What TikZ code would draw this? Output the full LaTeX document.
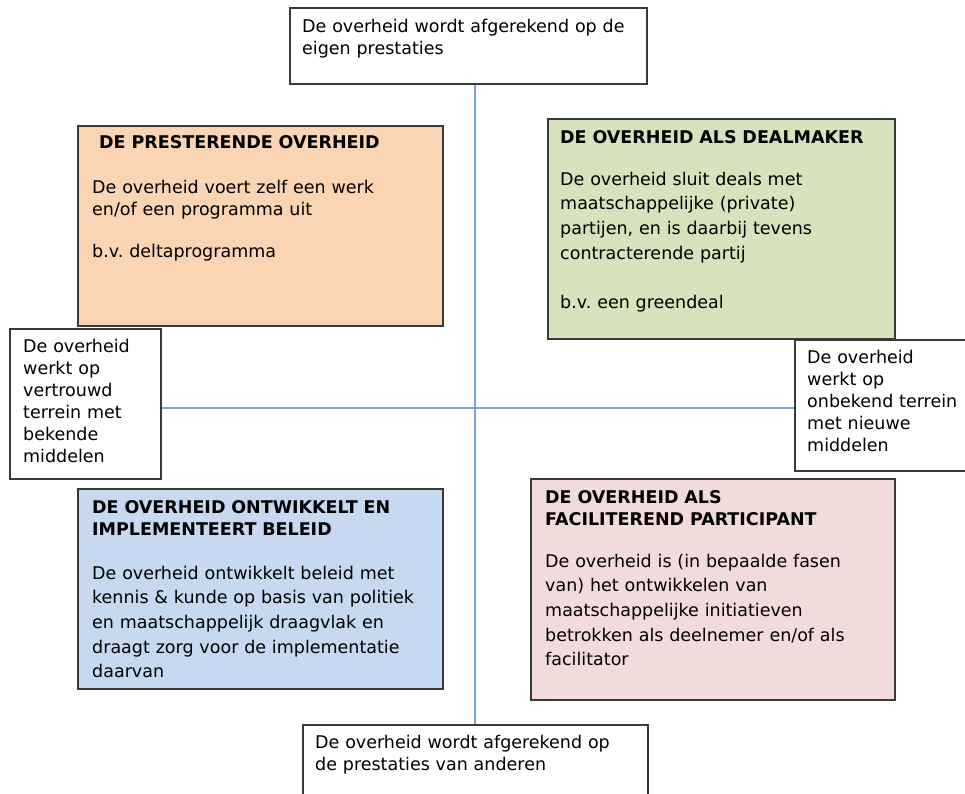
\documentclass[tikz,border=0pt]{standalone}
\usepackage{fontspec}
\setmainfont{DejaVu Sans}
\usepackage{tikz}
\frenchspacing
\definecolor{peach}{HTML}{FBD4B4}
\definecolor{sage}{HTML}{D6E3BC}
\definecolor{skyblue}{HTML}{C6D9F1}
\definecolor{rose}{HTML}{F2DBDB}
\definecolor{frameGray}{HTML}{3A3A3A}
\definecolor{axisBlue}{HTML}{7EA2D6}
\tikzstyle{axis} = [draw=axisBlue, line width=2pt]
\tikzstyle{rec} = [rectangle, anchor=north west, draw=frameGray, line width=1.5pt, fill=white, inner sep=0pt]
\tikzstyle{txt} = [anchor=base west, inner sep=0pt, text width=340pt, align=left, font=\fontsize{17.5}{22}\selectfont]
\tikzstyle{wideTxt} = [txt, font=\fontsize{17.5}{24.7}\selectfont]
\tikzstyle{titleTxt} = [txt, font=\fontsize{17.5}{22}\selectfont\bfseries]

\begin{document}
\begin{tikzpicture}[x=1pt, y=-1pt]
		\useasboundingbox (0,0) rectangle (965,793);
		\node (eigen) [rec, minimum width=357pt, minimum height=76pt] at (289,7) {};
		\node (presteren) [rec, fill=peach, minimum width=365pt, minimum height=200pt] at (77,125) {};
		\node (dealmaker) [rec, fill=sage, minimum width=347pt, minimum height=220pt] at (547,118) {};
		\node (vertrouwd) [rec, minimum width=151pt, minimum height=150pt] at (9,328) {};
		\node (onbekend) [rec, minimum width=180pt, minimum height=131pt] at (794,339) {};
		\node (beleid) [rec, fill=skyblue, minimum width=365pt, minimum height=200pt] at (77,488) {};
		\node (facilitator) [rec, fill=rose, minimum width=364pt, minimum height=221pt] at (530,478) {};
		\node (anderen) [rec, minimum width=345pt, minimum height=80pt] at (302,724) {};
		\draw [axis] (anderen.north |- eigen.south) -- (anderen.north);
		\draw [axis] ([yshift=-4pt]vertrouwd.east) -- ([yshift=-2.5pt]onbekend.west);
		\node (eigenTxt) [txt] at ([shift={(13,25)}]eigen.north west) {De overheid wordt afgerekend op de\\eigen prestaties};
		\node (presterenTitle) [titleTxt] at ([shift={(22,23)}]presteren.north west) {DE PRESTERENDE OVERHEID};
		\node (presterenTxt) [txt] at ([shift={(15,68)}]presteren.north west) {De overheid voert zelf een werk\\en/of een programma uit\\[20pt]b.v. deltaprogramma};
		\node (dealmakerTitle) [titleTxt] at ([shift={(13,25)}]dealmaker.north west) {DE OVERHEID ALS DEALMAKER};
		\node (dealmakerTxt) [wideTxt] at ([shift={(13,67)}]dealmaker.north west) {De overheid sluit deals met\\maatschappelijke (private)\\partijen, en is daarbij tevens\\contracterende partij\\[24.3pt]b.v. een greendeal};
		\node (vertrouwdTxt) [txt] at ([shift={(14,24)}]vertrouwd.north west) {De overheid\\werkt op\\vertrouwd\\terrein met\\bekende\\middelen};
		\node (onbekendTxt) [txt] at ([shift={(13,24)}]onbekend.north west) {De overheid\\werkt op\\onbekend terrein\\met nieuwe\\middelen};
		\node (beleidTitle) [titleTxt] at ([shift={(15,25)}]beleid.north west) {DE OVERHEID ONTWIKKELT EN\\IMPLEMENTEERT BELEID};
		\node (beleidTxt) [wideTxt] at ([shift={(15,91)}]beleid.north west) {De overheid ontwikkelt beleid met\\kennis \& kunde op basis van politiek\\en maatschappelijk draagvlak en\\draagt zorg voor de implementatie\\daarvan};
		\node (facilitatorTitle) [titleTxt] at ([shift={(15,25)}]facilitator.north west) {DE OVERHEID ALS\\FACILITEREND PARTICIPANT};
		\node (facilitatorTxt) [wideTxt] at ([shift={(15,89)}]facilitator.north west) {De overheid is (in bepaalde fasen\\van) het ontwikkelen van\\maatschappelijke initiatieven\\betrokken als deelnemer en/of als\\facilitator};
		\node (anderenTxt) [txt] at ([shift={(13,24)}]anderen.north west) {De overheid wordt afgerekend op\\de prestaties van anderen};
	\end{tikzpicture}
\end{document}
